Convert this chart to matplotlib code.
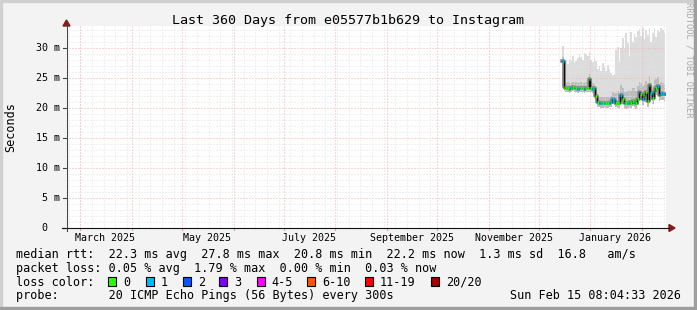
import matplotlib
matplotlib.use('Agg')
import matplotlib.pyplot as plt
import matplotlib.dates as mdates
from matplotlib.lines import Line2D
from matplotlib.patches import Rectangle, Polygon
from matplotlib.transforms import IdentityTransform
import numpy as np
import pandas as pd

W, H = 697, 310
MONO = 'DejaVu Sans Mono'

# ---- data -------------------------------------------------------------
t_start = pd.Timestamp('2025-02-20 08:04:33')
t_end = pd.Timestamp('2026-02-15 08:04:33')
first_day = '2025-12-15'

median_ms = [27.8, 23.5, 23.3, 23.4, 23.2, 23.3, 23.5, 23.3, 23.4, 23.2, 23.3, 23.4, 23.3, 23.2, 23.4, 23.3,
             24.9, 23.3, 23.2, 23.3, 22.0,
             21.0, 20.9, 20.8, 20.8, 20.9, 20.8, 20.8, 20.9, 21.0, 21.5, 21.3, 20.9, 20.8, 20.8,
             22.2, 21.5, 20.8, 20.8, 20.9, 21.0, 20.8, 21.2, 21.0, 20.8,
             21.5, 22.7, 22.3, 21.5, 22.0, 22.7, 21.2, 23.8, 22.5, 21.6,
             22.8, 23.3, 23.6, 22.2, 22.5, 22.4, 22.3]
smoke_min = [23.6, 22.8, 22.6, 22.7, 22.5, 22.6, 22.8, 22.6, 22.7, 22.5, 22.6, 22.7, 22.6, 22.5, 22.7, 22.6,
             22.7, 22.6, 22.5, 22.6, 21.2,
             20.2, 20.1, 20.0, 20.0, 20.1, 20.0, 20.0, 20.1, 20.2, 20.6, 20.5, 20.1, 20.0, 20.0,
             21.0, 20.6, 20.0, 19.9, 20.0, 20.2, 20.0, 20.3, 20.1, 19.9,
             20.5, 21.6, 21.3, 20.5, 21.0, 21.6, 20.2, 22.4, 21.3, 20.6,
             21.6, 22.1, 22.3, 21.1, 21.4, 21.3, 21.2]
smoke_q3 = [28.5, 24.4, 24.2, 24.3, 24.1, 24.2, 24.4, 24.2, 24.3, 24.1, 24.2, 24.3, 24.2, 24.1, 24.3, 24.2,
            25.6, 24.2, 24.1, 24.2, 23.0,
            22.0, 21.9, 21.8, 21.8, 21.9, 21.8, 21.8, 21.9, 22.0, 22.6, 22.3, 22.5, 22.8, 22.3,
            23.8, 23.4, 22.6, 22.7, 22.9, 23.0, 22.8, 23.4, 23.3, 22.8,
            23.6, 24.4, 24.2, 23.6, 24.0, 24.5, 23.4, 25.3, 24.2, 23.6,
            24.6, 24.9, 25.1, 24.0, 24.3, 24.2, 24.0]
smoke_max = [30.3, 26.3, 28.0, 27.4, 28.2, 27.8, 28.6, 27.5, 27.9, 28.4, 29.0, 28.5, 28.0, 29.2, 29.0, 28.6,
             29.4, 28.0, 27.6, 28.3, 27.8,
             26.5, 27.0, 26.2, 27.5, 26.8, 26.1, 27.2, 26.5, 25.8, 25.5, 25.6, 29.6, 30.2, 27.6,
             30.0, 31.6, 29.8, 32.5, 30.8, 28.6, 32.6, 31.0, 32.3, 31.8,
             32.8, 33.2, 32.0, 33.3, 31.5, 33.0, 32.2, 33.4, 31.0, 32.5,
             33.3, 31.8, 33.0, 32.7, 33.4, 33.0, 32.5]
loss_idx = [1, 0, 0, 0, 0, 1, 0, 0, 0, 1, 0, 0, 0, 1, 0, 0,
            0, 0, 1, 0, 0,
            0, 1, 1, 0, 1, 0, 0, 1, 1, 1, 1, 0, 0, 0,
            1, 0, 0, 0, 1, 0, 0, 0, 1, 0,
            0, 1, 0, 1, 0, 0, 0, 0, 1, 0,
            0, 0, 1, 0, 1, 1, 1]

loss_labels = ['0', '1', '2', '3', '4-5', '6-10', '11-19', '20/20']
loss_colors = ['#26ff00', '#00b8ff', '#0059ff', '#7e00ff', '#ff00ff', '#ff5500', '#ff0000', '#a10000']

month_lines = pd.date_range('2025-03-01', '2026-02-01', freq='MS')
week_lines = pd.date_range('2025-02-22', '2026-02-14', freq='7D')
xlabel_dates = pd.to_datetime(['2025-03-16', '2025-05-16', '2025-07-16',
                               '2025-09-16', '2025-11-16', '2026-01-16'])
xlabel_text = ['March 2025', 'May 2025', 'July 2025', 'September 2025', 'November 2025', 'January 2026']
y_major = [0, 5, 10, 15, 20, 25, 30]
y_text = [' 0', ' 5 m', '10 m', '15 m', '20 m', '25 m', '30 m']

title = 'Last 360 Days from e05577b1b629 to Instagram'
rtt_line = 'median rtt:  22.3 ms avg  27.8 ms max  20.8 ms min  22.2 ms now  1.3 ms sd  16.8   am/s'
loss_line = 'packet loss: 0.05 % avg  1.79 % max  0.00 % min  0.03 % now'
probe_line = 'probe:       20 ICMP Echo Pings (56 Bytes) every 300s'
stamp = 'Sun Feb 15 08:04:33 2026'

# ---- figure -----------------------------------------------------------
fig = plt.figure(figsize=(W / 100, H / 100), dpi=100, facecolor='#f3f3f3')
PX = IdentityTransform()
GRID_MINOR = '#e2e2e2'
GRID_MAJOR = '#f6b0b0'


def P(x, y):
    return (x, H - y)


def ftext(x, y, s, **kw):
    kw.setdefault('family', MONO)
    kw.setdefault('fontsize', 8.5)
    kw.setdefault('color', '#000000')
    fig.text(x / W, 1 - y / H, s, **kw)


left, right, top, bottom = 66, 666, 26, 228
ax = fig.add_axes([left / W, 1 - bottom / H, (right - left) / W, (bottom - top) / H])
ax.set_facecolor('white')
for s in ax.spines.values():
    s.set_visible(False)
ax.set_xlim(mdates.date2num(t_start), mdates.date2num(t_end))
ax.set_ylim(0, (bottom - top) / 6.0)
ax.set_xticks([])
ax.set_yticks([])

# smoke + median
n = len(median_ms)
xe = mdates.date2num(pd.date_range(first_day, periods=n + 1, freq='D').to_pydatetime())
ext = lambda a: np.append(a, a[-1])
ax.fill_between(xe, ext(smoke_min), ext(smoke_max), step='post', color='#dcdcdc', lw=0, zorder=1)
ax.fill_between(xe, ext(smoke_min), ext(smoke_q3), step='post', color='#bcbcbc', lw=0, zorder=1.1)

# grid (drawn over the smoke like rrdtool)
dots = (0, (1, 2))
for v in range(1, 34):
    ax.axhline(v, color=GRID_MAJOR if v % 5 == 0 else GRID_MINOR, lw=0.72, ls=dots, zorder=2)
for d in week_lines:
    ax.axvline(mdates.date2num(d), color=GRID_MINOR, lw=0.72, ls=dots, zorder=2)
for d in month_lines:
    ax.axvline(mdates.date2num(d), color=GRID_MAJOR, lw=0.72, ls=dots, zorder=2.1)

ax.step(xe, ext(median_ms), where='post', color='#8a8a8a', lw=2.6, zorder=3)
ax.step(xe, ext(median_ms), where='post', color='#111111', lw=1.0, zorder=3.2)
ax.hlines(median_ms, xe[:-1], xe[1:], colors=[loss_colors[i] for i in loss_idx], lw=2.0, zorder=3.4)

# axes lines and arrows
fig.add_artist(Line2D([62, 669], [H - 228] * 2, color='#111111', lw=0.8, transform=PX))
fig.add_artist(Line2D([66.5] * 2, [H - 231, H - 24], color='#444444', lw=0.8, transform=PX))
fig.add_artist(Polygon([P(66.5, 20), P(63, 26), P(70, 26)], closed=True, color='#8b1a1a', transform=PX))
fig.add_artist(Polygon([P(675, 228), P(669, 224.5), P(669, 231.5)], closed=True, color='#8b1a1a', transform=PX))

# tick marks and labels
tr = ax.get_xaxis_transform()
for d in month_lines:
    ax.plot([mdates.date2num(d)] * 2, [0, -0.012], color='#f09a9a', lw=0.8, transform=tr, clip_on=False)
for v, s in zip(y_major, y_text):
    ax.plot([-0.005, 0], [v, v], color='#444444', lw=0.8, transform=ax.get_yaxis_transform(), clip_on=False)
    ax.annotate(s, xy=(0, v), xycoords=ax.get_yaxis_transform(), xytext=(36 - left, 0),
                textcoords='offset pixels', ha='left', va='center', family=MONO, fontsize=7.2)

for d, s in zip(xlabel_dates, xlabel_text):
    ax.annotate(s, xy=(mdates.date2num(d), 0), xycoords=tr, xytext=(0, 228 - 241),
                textcoords='offset pixels', ha='center', va='baseline', family=MONO, fontsize=7.2)

# texts
ftext(W / 2, 24, title, ha='center', va='baseline', fontsize=9.6)
ftext(11, 127, 'Seconds', ha='center', va='center', rotation=90, fontsize=8.5)
ftext(689, 60, 'RRDTOOL / TOBI OETIKER', ha='center', va='center', rotation=270, fontsize=6.3, color='#a8a8a8')

ftext(16, 258, rtt_line, va='baseline')
ftext(16, 272, loss_line, va='baseline')
ftext(16, 285.5, 'loss color:', va='baseline')
ftext(16, 299, probe_line, va='baseline')
ftext(681, 299, stamp, ha='right', va='baseline')

box_x = [108.3, 145.7, 182.7, 219.3, 256.7, 307.3, 365, 430.7]
for bx, lab, col in zip(box_x, loss_labels, loss_colors):
    fig.add_artist(Rectangle(P(bx, 286), 8, 9, facecolor=col, edgecolor='black', lw=0.8, transform=PX))
    ftext(bx + 15, 285.5, lab, va='baseline')

# frame
fig.add_artist(Rectangle((0, H - 2), W, 2, color='#d0d0d0', transform=PX))
fig.add_artist(Rectangle((0, 0), 2, H, color='#d0d0d0', transform=PX))
fig.add_artist(Rectangle((0, 0), W, 3, color='#9e9e9e', transform=PX))
fig.add_artist(Rectangle((W - 3, 0), 3, H, color='#9e9e9e', transform=PX))

fig.savefig('out.png', dpi=100, facecolor=fig.get_facecolor())
